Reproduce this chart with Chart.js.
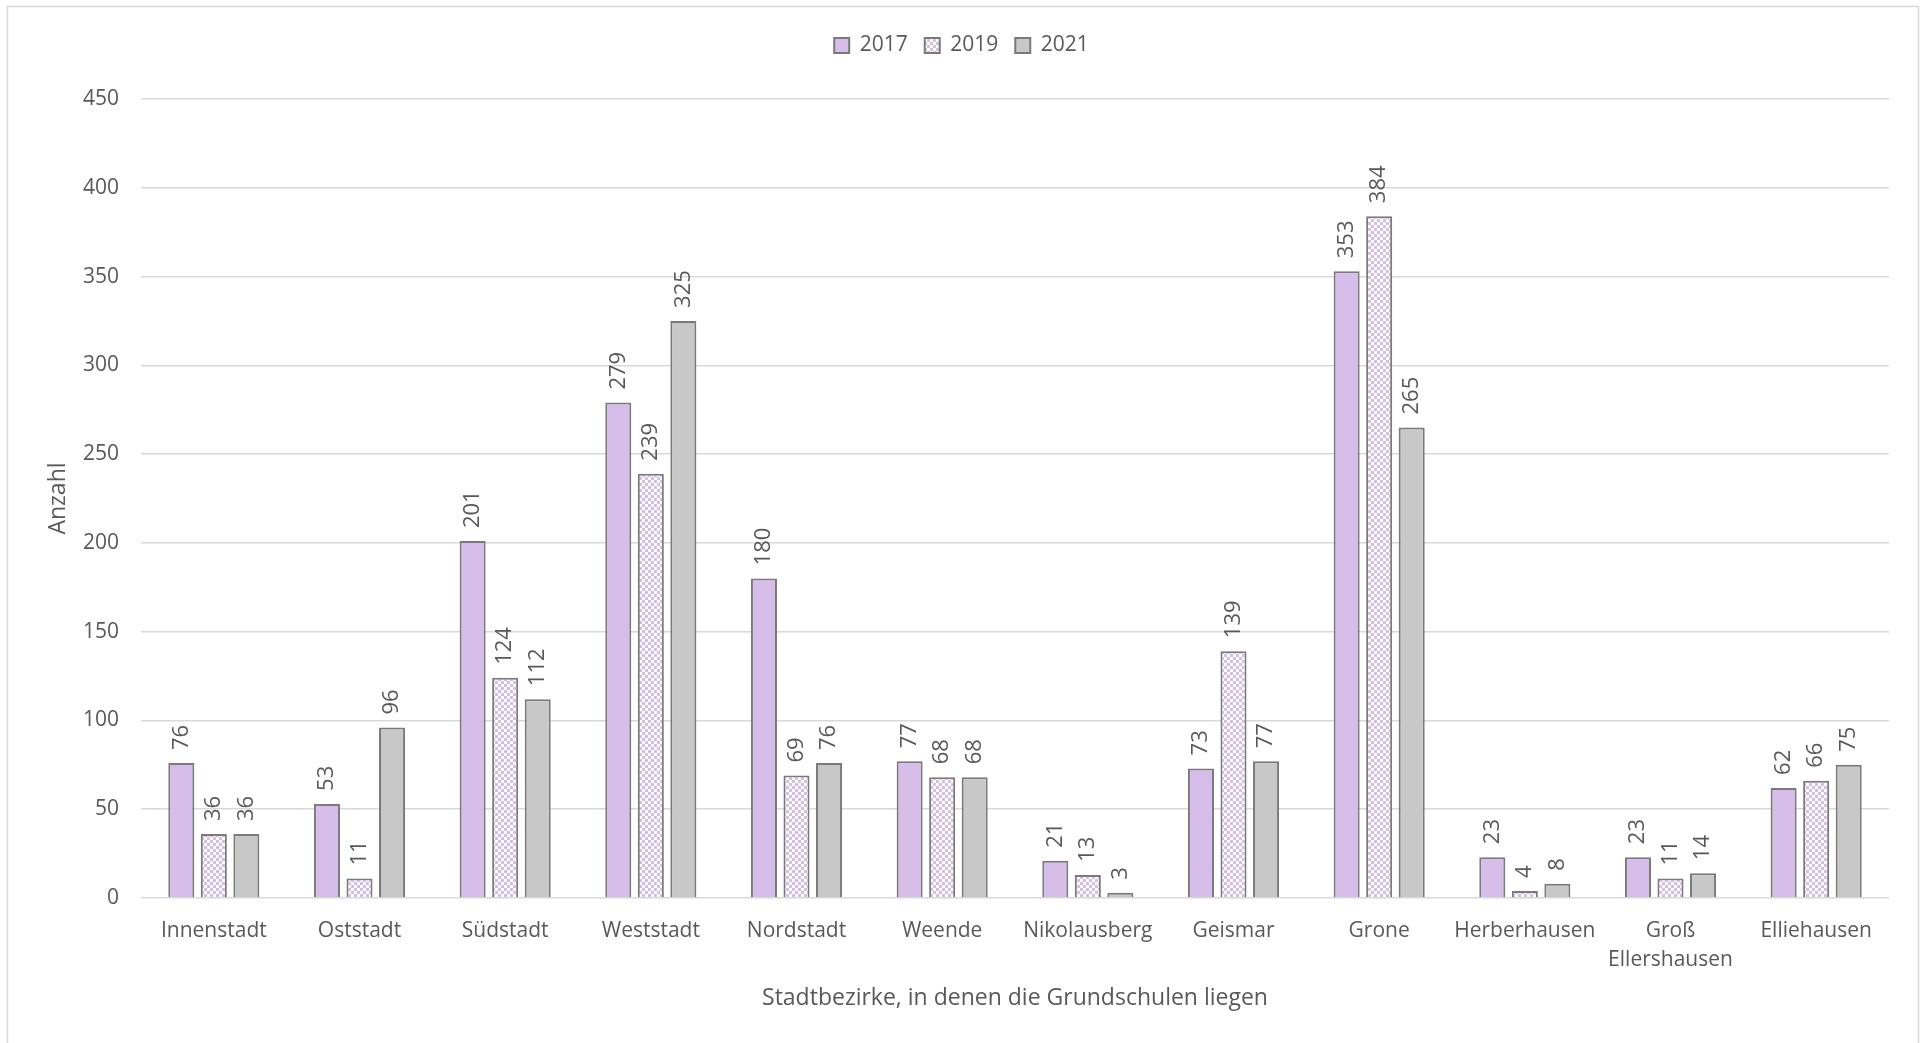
<!DOCTYPE html>
<html>
<head>
<meta charset="utf-8">
<script src="https://cdn.jsdelivr.net/npm/chart.js"></script>
<style>
  html, body { margin: 0; padding: 0; background: #fff; }
  #wrap { width: 1923px; height: 1043px; position: relative; }
</style>
</head>
<body>
<div id="wrap"><canvas id="chart"></canvas></div>
<script>
// Data
const categories = ['Innenstadt', 'Oststadt', 'Südstadt', 'Weststadt', 'Nordstadt', 'Weende',
  'Nikolausberg', 'Geismar', 'Grone', 'Herberhausen', ['Groß', 'Ellershausen'], 'Elliehausen'];
const seriesNames = ['2017', '2019', '2021'];
const values2017 = [76, 53, 201, 279, 180, 77, 21, 73, 353, 23, 23, 62];
const values2019 = [36, 11, 124, 239, 69, 68, 13, 139, 384, 4, 11, 66];
const values2021 = [36, 96, 112, 325, 76, 68, 3, 77, 265, 8, 14, 75];
const yTicks = [0, 50, 100, 150, 200, 250, 300, 350, 400, 450];

const FONT = "'Open Sans', sans-serif";
const TEXT = '#595959';
const PURPLE = '#D7BDE9';
const GREY = '#C8C8C8';
const EDGE = '#7A7A7A';

// checkerboard fill for 2019
function checker() {
  const c = document.createElement('canvas');
  c.width = 6; c.height = 6;
  const g = c.getContext('2d');
  g.fillStyle = '#fff';
  g.fillRect(0, 0, 6, 6);
  g.fillStyle = PURPLE;
  g.fillRect(0, 0, 3, 3);
  g.fillRect(3, 3, 3, 3);
  return g.createPattern(c, 'repeat');
}

// frame around the whole chart
const framePlugin = {
  id: 'frame',
  beforeDraw(chart) {
    const ctx = chart.ctx;
    ctx.save();
    ctx.strokeStyle = '#D9D9D9';
    ctx.lineWidth = 1.5;
    ctx.strokeRect(7.5, 6.5, 1911, 1060);
    ctx.restore();
  }
};

// extra room between legend and plot
const legendGap = {
  id: 'legendGap',
  beforeLayout(chart) {
    const lg = chart.legend;
    if (lg && !lg._gapPatched) {
      const fit = lg.fit.bind(lg);
      lg.fit = function () { fit(); this.height += 33; };
      lg._gapPatched = true;
    }
  }
};

// rotated value labels above bars
const valueLabels = {
  id: 'valueLabels',
  afterDatasetsDraw(chart) {
    const ctx = chart.ctx;
    ctx.save();
    ctx.fillStyle = TEXT;
    ctx.font = '22px ' + FONT;
    ctx.textAlign = 'left';
    ctx.textBaseline = 'middle';
    chart.data.datasets.forEach((ds, i) => {
      chart.getDatasetMeta(i).data.forEach((bar, j) => {
        ctx.save();
        ctx.translate(bar.x, bar.y - 13);
        ctx.rotate(-Math.PI / 2);
        ctx.fillText(String(ds.data[j]), 0, 0);
        ctx.restore();
      });
    });
    ctx.restore();
  }
};

const ctx = document.getElementById('chart').getContext('2d');
const fills = [PURPLE, checker(), GREY];
const seriesValues = [values2017, values2019, values2021];

new Chart(ctx, {
  type: 'bar',
  data: {
    labels: categories,
    datasets: seriesNames.map((name, i) => ({
      label: name,
      data: seriesValues[i],
      backgroundColor: fills[i],
      borderColor: EDGE,
      borderWidth: 2,
      categoryPercentage: 0.67,
      barPercentage: 0.8
    }))
  },
  options: {
    responsive: true,
    maintainAspectRatio: false,
    animation: false,
    layout: { padding: { top: 18, right: 34, left: 34, bottom: 0 } },
    plugins: {
      legend: {
        position: 'top',
        labels: {
          color: TEXT,
          font: { family: FONT, size: 21 },
          boxWidth: 15,
          boxHeight: 15,
          padding: 17
        }
      },
      tooltip: { enabled: false }
    },
    scales: {
      x: {
        grid: { display: false },
        border: { display: false },
        ticks: {
          color: TEXT,
          font: { family: FONT, size: 21, lineHeight: 1.4 },
          maxRotation: 0,
          autoSkip: false,
          padding: 10
        },
        title: {
          display: true,
          text: 'Stadtbezirke, in denen die Grundschulen liegen',
          color: TEXT,
          font: { family: FONT, size: 23 },
          padding: { bottom: 31 }
        },
        afterFit(s) { s.height = 145; }
      },
      y: {
        min: 0,
        max: 450,
        afterBuildTicks(s) { s.ticks = yTicks.map(v => ({ value: v })); },
        grid: { color: '#D9D9D9', lineWidth: 1.5, drawTicks: false },
        border: { display: false },
        ticks: {
          color: TEXT,
          font: { family: FONT, size: 21 },
          padding: 22
        },
        title: {
          display: true,
          text: 'Anzahl',
          color: TEXT,
          font: { family: FONT, size: 23 },
          padding: { top: 11 }
        },
        afterFit(s) { s.width = 107; }
      }
    }
  },
  plugins: [framePlugin, legendGap, valueLabels]
});
</script>
</body>
</html>
